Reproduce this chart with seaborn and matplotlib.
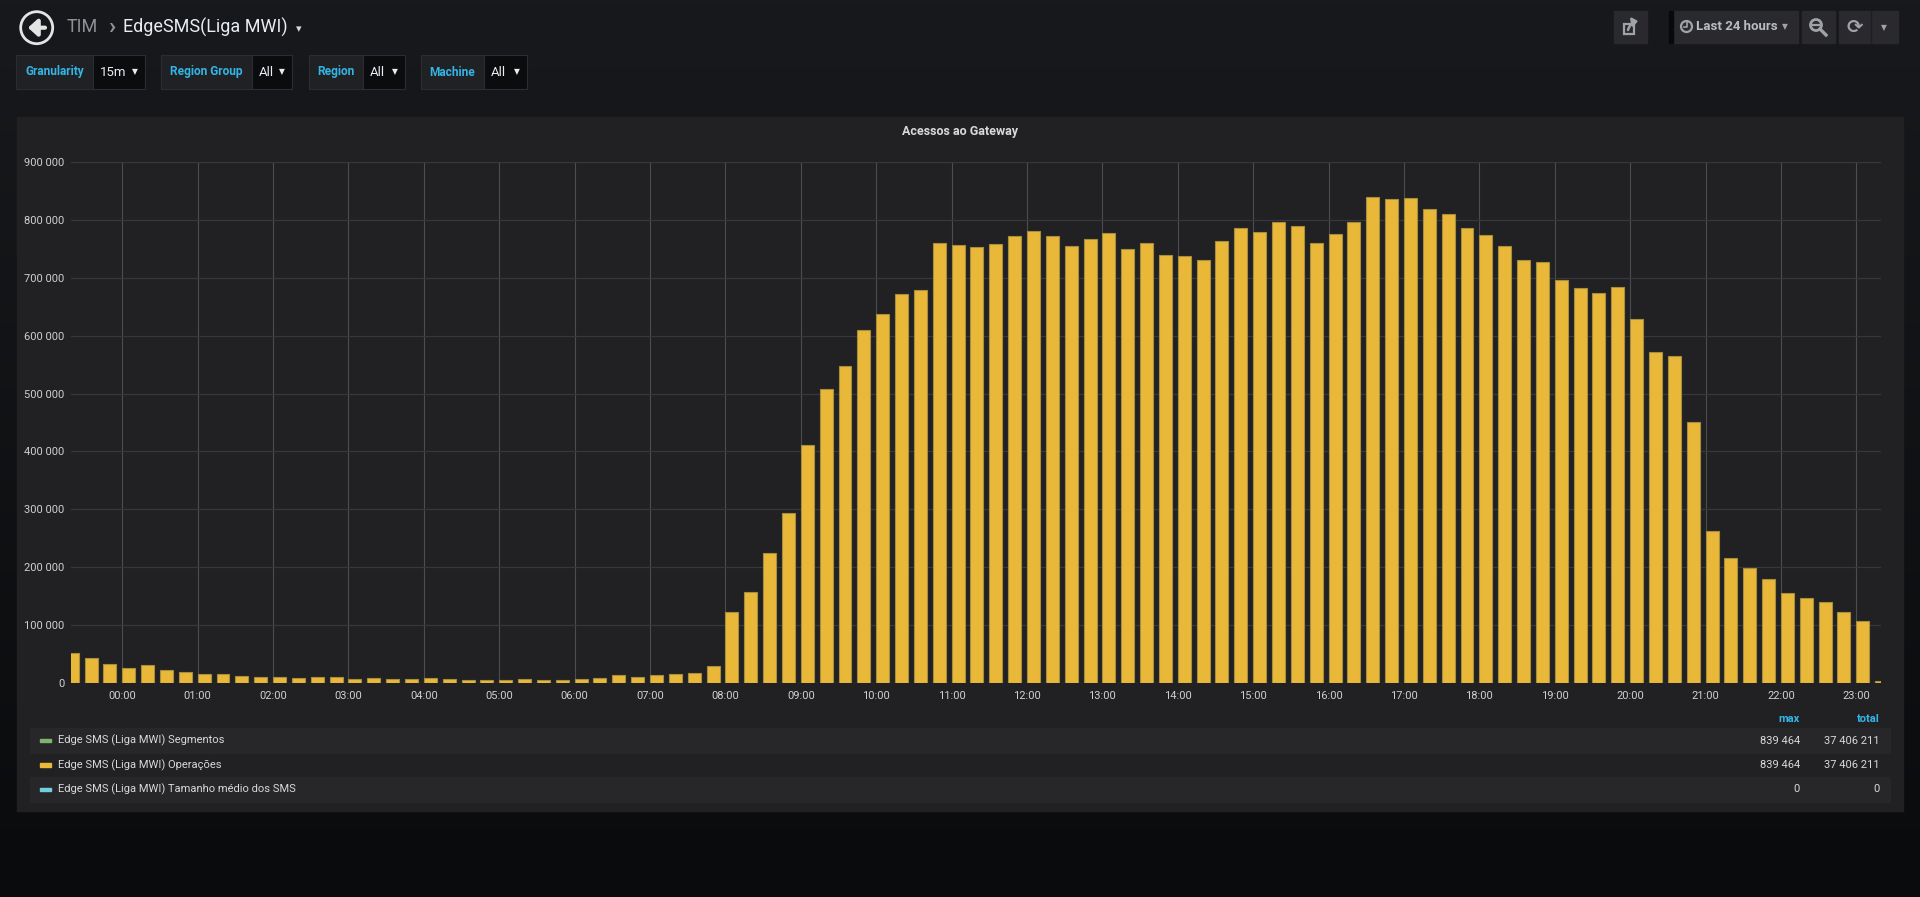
import numpy as np
import pandas as pd
import matplotlib
matplotlib.use('Agg')
import matplotlib.pyplot as plt
import seaborn as sns
from matplotlib.patches import Rectangle, Circle
from matplotlib.ticker import FuncFormatter

plt.rcParams['font.family'] = ['Roboto', 'DejaVu Sans']

# ---- data (15m buckets, first one is 23:15 of the previous day)
first_bucket_h = -0.75
bucket_h = 0.25
acessos = [
    51200, 43200, 32100,
    25900, 30900, 22200, 19800, 14800, 15400, 12300, 11100,
    9900, 9300, 9900, 9900, 6800, 8600, 6200, 6800,
    8600, 6800, 5600, 5600, 5600, 7400, 5600, 4900,
    6200, 8000, 13600, 11100, 13600, 15400, 17900, 29000,
    122200, 158000, 225300, 294400, 410500, 508600, 546900, 609300,
    637000, 671600, 678400, 759300, 757400, 753100, 758000, 771600,
    780200, 771600, 754300, 766700, 777200, 749400, 759900, 739500,
    738300, 730200, 763000, 785800, 779000, 795700, 789500, 759900,
    775300, 795700, 839464, 835800, 838300, 818500, 810500, 785800,
    773500, 755600, 731500, 726600, 696900, 682100, 672900, 684000,
    628400, 571000, 564200, 450600, 263000, 216700, 198800, 179600,
    154900, 147500, 140700, 122800, 106800, 4300,
]
hour_labels = [f'{h:02d}:00' for h in range(24)]

series_names = ['Edge SMS (Liga MWI) Segmentos',
                'Edge SMS (Liga MWI) Operações',
                'Edge SMS (Liga MWI) Tamanho médio dos SMS']
series_colors = ['#7EB26D', '#EAB839', '#6ED0E0']
legend_max = ['839 464', '839 464', '0']
legend_total = ['37 406 211', '37 406 211', '0']

var_labels = ['Granularity', 'Region Group', 'Region', 'Machine']
var_values = ['15m', 'All', 'All', 'All']

W, H = 1920, 897
fig = plt.figure(figsize=(W / 100, H / 100), dpi=100)

# ---- page chrome, drawn in pixel coordinates
bg = fig.add_axes([0, 0, 1, 1])
bg.set_xlim(0, W)
bg.set_ylim(H, 0)
bg.axis('off')

top = np.array([0x18, 0x19, 0x1c]) / 255
bottom = np.array([0x0a, 0x0b, 0x0d]) / 255
k = np.linspace(0, 1, 200)[:, None]
grad = (top * (1 - k) + bottom * k)[:, None, :]
bg.imshow(grad, extent=(0, W, H, 0), aspect='auto', zorder=0)

# panel
bg.add_patch(Rectangle((17, 117), 1886, 694, color='#212124', zorder=1))
bg.text(960, 131, 'Acessos ao Gateway', color='#d8d9da', fontsize=9,
        fontweight='bold', ha='center', va='center', zorder=2)

# header: back button + breadcrumb
bg.add_patch(Circle((36.7, 27.7), 16, fill=False, ec='#e4e4e4', lw=2, zorder=2))
bg.annotate('', xy=(28, 27.7), xytext=(45, 27.7), zorder=3,
            arrowprops=dict(arrowstyle='-|>,head_length=0.55,head_width=0.5',
                            color='#e4e4e4', lw=3, shrinkA=0, shrinkB=0))
bg.text(67, 27, 'TIM', color='#8e9196', fontsize=13, va='center', ha='left')
bg.text(108, 26, '›', color='#8e9196', fontsize=17, fontweight='bold',
        va='center', ha='left')
bg.text(123, 27, 'EdgeSMS(Liga MWI)', color='#e9edf2', fontsize=13,
        va='center', ha='left')
bg.text(296, 29, '▾', color='#d8d9da', fontsize=8, va='center', ha='left',
        family=['DejaVu Sans'])

# template variables
var_boxes = [(16, 93, 145), (161, 252, 292), (309, 363, 405), (421, 484, 527)]
for (x0, xm, x1), lab, val in zip(var_boxes, var_labels, var_values):
    bg.add_patch(Rectangle((x0, 55), xm - x0, 34, fc='#202124', ec='#2c2d30',
                           lw=0.8, zorder=1))
    bg.add_patch(Rectangle((xm, 55), x1 - xm, 34, fc='#0b0c0e', ec='#2c2d30',
                           lw=0.8, zorder=1))
    bg.text((x0 + xm) / 2, 72, lab, color='#33b5e5', fontsize=8.6,
            fontweight='bold', ha='center', va='center', zorder=2)
    bg.text(xm + 7, 72, val, color='#e9edf2', fontsize=9.5, ha='left',
            va='center', zorder=2)
    bg.text(x1 - 7, 72, '▼', color='#e9edf2', fontsize=5.5, ha='right',
            va='center', family=['DejaVu Sans'], zorder=2)

# top right buttons
btn = '#2a2a2e'
icon = '#9fa3a9'
for x0, x1 in [(1614, 1647), (1673, 1798), (1802, 1835), (1839, 1898)]:
    bg.add_patch(Rectangle((x0, 11), x1 - x0, 32, color=btn, zorder=1))
bg.add_patch(Rectangle((1669, 11), 4, 32, color='#08090a', zorder=1))
bg.plot([1871, 1871], [11, 43], color='#1f1f22', lw=1, zorder=2)
# share
bg.add_patch(Rectangle((1624, 24), 10, 10, fill=False, ec=icon, lw=1.6, zorder=2))
bg.annotate('', xy=(1638, 21), xytext=(1628, 30), zorder=3,
            arrowprops=dict(arrowstyle='-|>,head_length=0.3,head_width=0.25',
                            color=icon, lw=1.8, connectionstyle='arc3,rad=-0.3',
                            shrinkA=0, shrinkB=0))
# time picker
bg.add_patch(Circle((1686.5, 26.5), 5.5, fill=False, ec=icon, lw=1.6, zorder=2))
bg.plot([1686.5, 1686.5, 1684], [22.5, 27, 27], color=icon, lw=1.2, zorder=3)
bg.text(1696, 27, 'Last 24 hours', color='#b8bcc2', fontsize=9.5,
        fontweight='bold', ha='left', va='center', zorder=2)
bg.text(1785, 27, '▼', color=icon, fontsize=5.5, ha='center', va='center',
        family=['DejaVu Sans'], zorder=2)
# zoom out
bg.add_patch(Circle((1816, 25), 5.5, fill=False, ec=icon, lw=2, zorder=2))
bg.plot([1813, 1819], [25, 25], color=icon, lw=1.6, zorder=3)
bg.plot([1820, 1826], [29, 35], color=icon, lw=2.4, zorder=3)
# refresh
bg.text(1855, 27, '⟳', color=icon, fontsize=14, fontweight='bold',
        ha='center', va='center', family=['DejaVu Sans'], zorder=2)
bg.text(1884, 28, '▼', color=icon, fontsize=5.5, ha='center', va='center',
        family=['DejaVu Sans'], zorder=2)

# legend table
bg.text(1800, 719, 'max', color='#33b5e5', fontsize=8, fontweight='bold',
        ha='right', va='center')
bg.text(1880, 719, 'total', color='#33b5e5', fontsize=8, fontweight='bold',
        ha='right', va='center')
for i, (name, col, mx, tot) in enumerate(zip(series_names, series_colors,
                                              legend_max, legend_total)):
    yc = 740.5 + i * 24.3
    if i != 1:
        bg.add_patch(Rectangle((30, yc - 12.5), 1860, 25, color='#27272a', zorder=1))
    bg.add_patch(Rectangle((40, yc - 1.5), 11, 3.5, color=col, zorder=2))
    bg.text(58, yc, name, color='#d8d9da', fontsize=8, ha='left', va='center', zorder=2)
    bg.text(1800, yc, mx, color='#d8d9da', fontsize=8, ha='right', va='center', zorder=2)
    bg.text(1880, yc, tot, color='#d8d9da', fontsize=8, ha='right', va='center', zorder=2)

# ---- the graph itself
ax = fig.add_axes([71 / W, 1 - 683 / H, (1881 - 71) / W, (683 - 162) / H])
ax.set_facecolor('none')

bar_w = 0.172
df = pd.DataFrame({
    'hora': first_bucket_h + bucket_h * np.arange(len(acessos)) + bar_w / 2,
    'acessos': acessos,
})
sns.barplot(data=df, x='hora', y='acessos', native_scale=True,
            width=bar_w / bucket_h, color='#EAB839', saturation=1,
            edgecolor='#a58f3c', linewidth=0.8, errorbar=None, ax=ax, zorder=3)

ax.set_xlim(-0.68, 23.327)
ax.set_ylim(0, 900000)
ax.set_xticks(range(24))
ax.set_xticklabels(hour_labels)
ax.set_yticks(range(0, 900001, 100000))
ax.yaxis.set_major_formatter(FuncFormatter(lambda v, p: f'{int(v):,}'.replace(',', ' ')))
ax.set_xlabel('')
ax.set_ylabel('')
ax.grid(True, axis='x', color='#4d4d51', lw=0.8)
ax.grid(True, axis='y', color='#38383c', lw=0.9)
ax.set_axisbelow(True)
for s in ax.spines.values():
    s.set_visible(False)
ax.tick_params(length=0, labelsize=8, colors='#cfd0d1')
ax.tick_params(axis='y', pad=4.5)
ax.tick_params(axis='x', pad=5.5)

fig.savefig('out.png', dpi=100, facecolor=fig.get_facecolor())
